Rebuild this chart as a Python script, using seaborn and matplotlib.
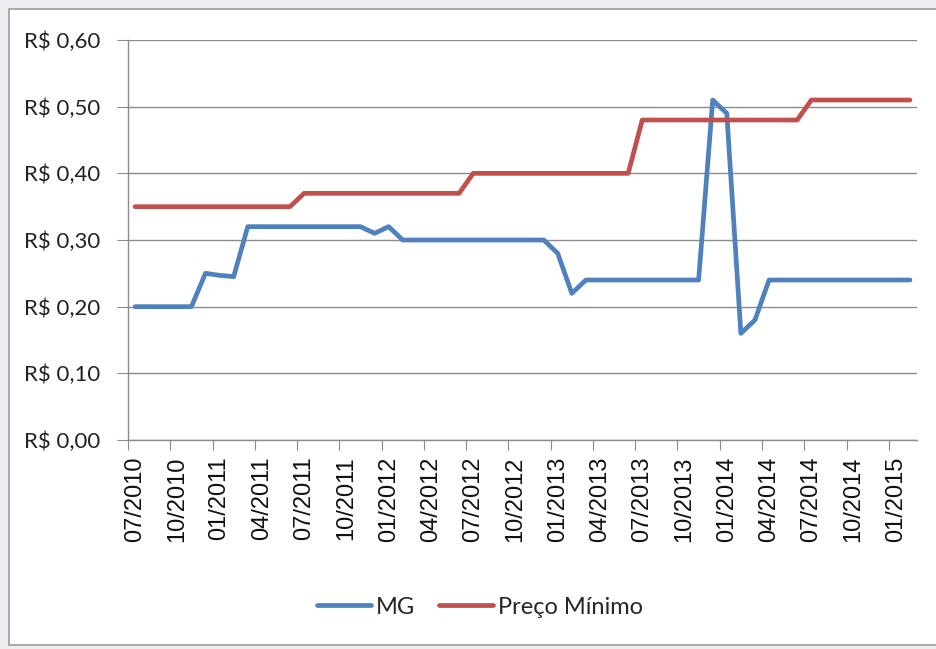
import pandas as pd
import matplotlib
matplotlib.use('Agg')
from matplotlib import pyplot as plt
from matplotlib.patches import Rectangle
import seaborn as sns

# preços mensais, 07/2010 a 02/2015
mg = [0.20, 0.20, 0.20, 0.20, 0.20,
      0.25, 0.247, 0.245,
      0.32, 0.32, 0.32, 0.32, 0.32, 0.32, 0.32, 0.32, 0.32,
      0.31, 0.32,
      0.30, 0.30, 0.30, 0.30, 0.30, 0.30, 0.30, 0.30, 0.30, 0.30, 0.30,
      0.28, 0.22,
      0.24, 0.24, 0.24, 0.24, 0.24, 0.24, 0.24, 0.24, 0.24,
      0.51, 0.49, 0.16, 0.18,
      0.24, 0.24, 0.24, 0.24, 0.24, 0.24, 0.24, 0.24, 0.24, 0.24, 0.24]
preco_minimo = [0.35] * 12 + [0.37] * 12 + [0.40] * 12 + [0.48] * 12 + [0.51] * 8

tick_labels = ['07/2010', '10/2010', '01/2011', '04/2011', '07/2011', '10/2011',
               '01/2012', '04/2012', '07/2012', '10/2012', '01/2013', '04/2013',
               '07/2013', '10/2013', '01/2014', '04/2014', '07/2014', '10/2014',
               '01/2015']
y_ticks = [0.0, 0.1, 0.2, 0.3, 0.4, 0.5, 0.6]
y_labels = ['R$ 0,00', 'R$ 0,10', 'R$ 0,20', 'R$ 0,30', 'R$ 0,40', 'R$ 0,50', 'R$ 0,60']

n = len(mg)
df = pd.DataFrame({
    'mes': list(range(n)) * 2,
    'valor': mg + preco_minimo,
    'serie': ['MG'] * n + ['Preço Mínimo'] * n,
})

sns.set_style('white')
plt.rcParams['font.family'] = ['Lato', 'DejaVu Sans']

fig = plt.figure(figsize=(9.36, 6.49), dpi=100, facecolor='#eceef1')
fig.patches.append(Rectangle((9 / 936, 4 / 649), 1.0, 1 - 13 / 649,
                             transform=fig.transFigure, facecolor='white',
                             edgecolor='#9c9c9c', linewidth=1.2, zorder=-10))
ax = fig.add_axes([128 / 936, 1 - 440 / 649, (917 - 128) / 936, 400 / 649])
ax.set_facecolor('white')

sns.lineplot(data=df, x='mes', y='valor', hue='serie', ax=ax,
             palette={'MG': '#4f81bd', 'Preço Mínimo': '#c0504d'},
             linewidth=3.4, legend=False)

ax.set_xlim(-0.5, n - 0.5)
ax.set_ylim(0, 0.6)
ax.set_yticks(y_ticks)
ax.set_yticklabels(y_labels, fontsize=16, color='#222222')
ax.yaxis.grid(True, color='#8c8c8c', linewidth=1)
ax.set_axisbelow(True)
ax.set_xticks([i - 0.5 for i in range(0, n, 3)])
ax.set_xticklabels([])
ax.set_xticks(list(range(0, n, 3)), minor=True)
ax.set_xticklabels(tick_labels, minor=True, rotation=90, fontsize=17,
                   family=['Liberation Sans', 'DejaVu Sans'], color='#111111')
ax.tick_params(axis='x', which='major', direction='out', length=7, color='#8c8c8c', bottom=True)
ax.tick_params(axis='x', which='minor', length=0, pad=12)
ax.tick_params(axis='y', direction='out', length=8, color='#8c8c8c', left=True, pad=12)
ax.set_xlabel('')
ax.set_ylabel('')
for side in ['top', 'right']:
    ax.spines[side].set_visible(False)
for side in ['left', 'bottom']:
    ax.spines[side].set_color('#8c8c8c')
    ax.spines[side].set_linewidth(1)

handles = [plt.Line2D([], [], color='#4f81bd', linewidth=3.4),
           plt.Line2D([], [], color='#c0504d', linewidth=3.4)]
fig.legend(handles, ['MG', 'Preço Mínimo'], loc='center', bbox_to_anchor=(480 / 936, 1 - 607 / 649),
           ncol=2, frameon=False, fontsize=17, handlelength=2.3, handletextpad=0.2,
           columnspacing=1.0)

fig.savefig('out.png', dpi=100, facecolor=fig.get_facecolor())
